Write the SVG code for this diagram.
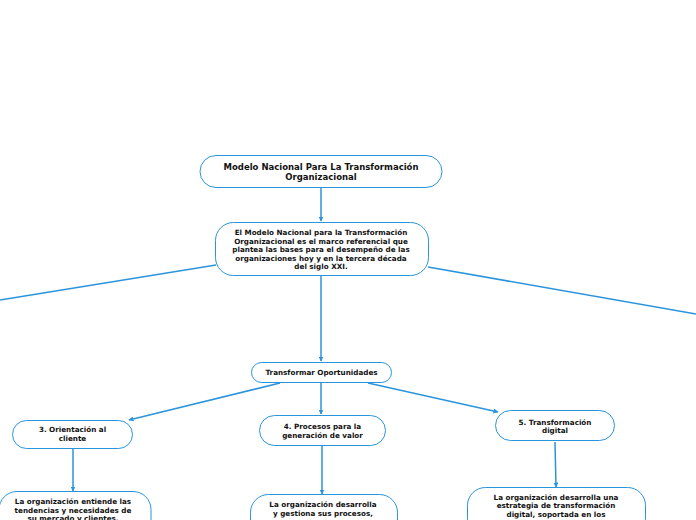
<svg xmlns="http://www.w3.org/2000/svg" width="696" height="520" viewBox="0 0 696 520">
<defs>
<marker id="arr" viewBox="0 0 10 10" refX="9" refY="5" markerWidth="5" markerHeight="5" orient="auto" markerUnits="userSpaceOnUse">
<path d="M0,0 L10,5 L0,10 z" fill="#2a94dc"/>
</marker>
<style>
.n{fill:#fff;stroke:#2a94dc;stroke-width:1}
.t{font-family:"DejaVu Sans",Verdana,sans-serif;font-weight:bold;fill:#111;text-anchor:middle}
.c{stroke:#2a94dc;stroke-width:1.5;fill:none}
.a{marker-end:url(#arr)}
</style>
</defs>
<rect width="696" height="520" fill="#fff"/>
<g id="connectors">
<line class="c a" x1="321" y1="188" x2="321" y2="221"/>
<line class="c a" x1="321" y1="276" x2="321" y2="361"/>
<line class="c" x1="216" y1="265" x2="0" y2="300"/>
<line class="c" x1="428" y1="267" x2="696" y2="314"/>
<line class="c a" x1="280" y1="383" x2="129" y2="420"/>
<line class="c a" x1="321" y1="383" x2="321" y2="414"/>
<line class="c a" x1="368" y1="383" x2="498" y2="412"/>
<line class="c a" x1="73" y1="449" x2="73" y2="491"/>
<line class="c a" x1="322" y1="446" x2="322" y2="494"/>
<line class="c a" x1="555" y1="442" x2="556" y2="487"/>
</g>
<g id="node-modelo">
<rect class="n" x="200" y="155.5" width="242" height="32" rx="16"/>
<text class="t" font-size="8.5" x="321" y="170">Modelo Nacional Para La Transformación</text>
<text class="t" font-size="8.5" x="321" y="180">Organizacional</text>
</g>
<g id="node-definicion">
<rect class="n" x="215.5" y="222.5" width="213" height="53" rx="18"/>
<text class="t" font-size="7.2" x="321" y="235">El Modelo Nacional para la Transformación</text>
<text class="t" font-size="7.2" x="321" y="243.5">Organizacional es el marco referencial que</text>
<text class="t" font-size="7.2" x="321" y="252">plantea las bases para el desempeño de las</text>
<text class="t" font-size="7.2" x="321" y="260.5">organizaciones hoy y en la tercera década</text>
<text class="t" font-size="7.2" x="321" y="269">del siglo XXI.</text>
</g>
<g id="node-transformar">
<rect class="n" x="251.5" y="362.5" width="140" height="20" rx="10"/>
<text class="t" font-size="7.2" x="321.5" y="375">Transformar Oportunidades</text>
</g>
<g id="node-orientacion">
<rect class="n" x="12.5" y="420.5" width="120" height="28" rx="14"/>
<text class="t" font-size="7.2" x="72.5" y="432">3. Orientación al</text>
<text class="t" font-size="7.2" x="72.5" y="441">cliente</text>
</g>
<g id="node-procesos">
<rect class="n" x="259.5" y="415.5" width="126" height="30" rx="15"/>
<text class="t" font-size="7.2" x="322.5" y="428.5">4. Procesos para la</text>
<text class="t" font-size="7.2" x="322.5" y="437.5">generación de valor</text>
</g>
<g id="node-digital">
<rect class="n" x="495.5" y="410.5" width="119" height="30" rx="15"/>
<text class="t" font-size="7.2" x="555" y="424.5">5. Transformación</text>
<text class="t" font-size="7.2" x="555" y="433">digital</text>
</g>
<g id="node-orientacion-desc">
<rect class="n" x="-1" y="491.5" width="152" height="50" rx="18"/>
<text class="t" font-size="7.2" x="73" y="504">La organización entiende las</text>
<text class="t" font-size="7.2" x="73" y="512.5">tendencias y necesidades de</text>
<text class="t" font-size="7.2" x="73" y="520.5">su mercado y clientes.</text>
</g>
<g id="node-procesos-desc">
<rect class="n" x="250.5" y="494.5" width="147" height="50" rx="18"/>
<text class="t" font-size="7.2" x="323" y="507">La organización desarrolla</text>
<text class="t" font-size="7.2" x="323" y="515.5">y gestiona sus procesos,</text>
</g>
<g id="node-digital-desc">
<rect class="n" x="467.5" y="487.5" width="178" height="50" rx="18"/>
<text class="t" font-size="7.2" x="556" y="499.5">La organización desarrolla una</text>
<text class="t" font-size="7.2" x="556" y="508">estrategia de transformación</text>
<text class="t" font-size="7.2" x="556" y="516.5">digital, soportada en los</text>
</g>
</svg>
